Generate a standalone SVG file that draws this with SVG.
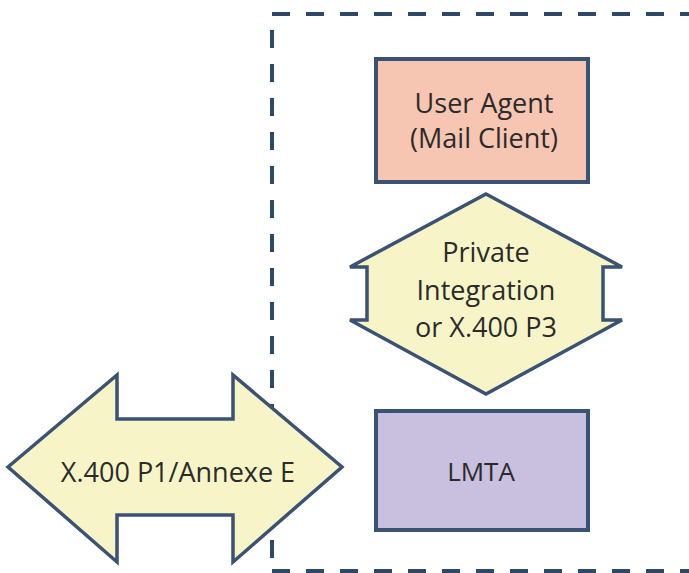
<svg xmlns="http://www.w3.org/2000/svg" width="689" height="573" viewBox="0 0 689 573">
<style>
.bound{fill:none;stroke:#2e4869;stroke-width:4;stroke-dasharray:18 16}
.box{stroke:#3a5273;stroke-width:4}
.arrow{fill:#f7f5c8;stroke:#3a5273;stroke-width:3.5;stroke-linejoin:miter}
.lbl{font-family:"Open Sans","Noto Sans","DejaVu Sans",sans-serif;font-size:27px;fill:#2b2b2b;text-anchor:middle}
</style>
<rect width="689" height="573" fill="#ffffff"/>
<g id="boundary">
<path class="bound" d="M272,14 H695"/>
<path class="bound" d="M272,30 V571"/>
<path class="bound" d="M272,571 H695"/>
</g>
<g id="user-agent">
<rect class="box" x="376" y="59" width="212" height="123" fill="#f7c6b2"/>
<text class="lbl" x="484" y="113">User Agent</text>
<text class="lbl" x="484" y="148">(Mail Client)</text>
</g>
<g id="lmta">
<rect class="box" x="376" y="411" width="212" height="119" fill="#c9bfdf"/>
<text class="lbl" x="481" y="481" style="font-size:26px">LMTA</text>
</g>
<g id="connectors">
<g id="p3-arrow">
<path class="arrow" d="M486,194 L622,267 H603 V320 H622 L486,394 L350,320 H367 V267 H350 Z"/>
<text class="lbl" x="486" y="262">Private</text>
<text class="lbl" x="486" y="300">Integration</text>
<text class="lbl" x="486" y="337">or X.400 P3</text>
</g>
<g id="p1-arrow">
<path class="arrow" d="M8,467 L117,375 V419 H233 V375 L342,467 L233,562 V515 H117 V562 Z"/>
<text class="lbl" x="178" y="482">X.400 P1/Annexe E</text>
</g>
</g>
</svg>
